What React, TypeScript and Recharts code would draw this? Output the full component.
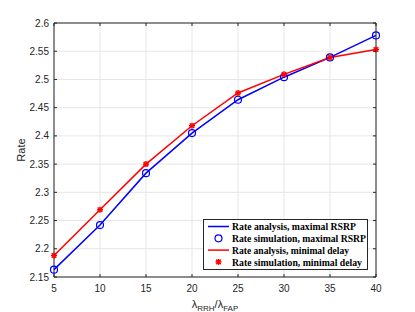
import { LineChart, Line, XAxis, YAxis, CartesianGrid, ReferenceArea } from 'recharts';

const ratios = [5, 10, 15, 20, 25, 30, 35, 40];
const rsrpAnalysis = [2.163, 2.242, 2.334, 2.405, 2.464, 2.504, 2.539, 2.578];
const rsrpSimulation = [2.163, 2.242, 2.334, 2.405, 2.464, 2.504, 2.539, 2.578];
const delayAnalysis = [2.188, 2.269, 2.350, 2.418, 2.476, 2.509, 2.539, 2.553];
const delaySimulation = [2.188, 2.269, 2.350, 2.418, 2.476, 2.509, 2.539, 2.553];
const xTicks = [5, 10, 15, 20, 25, 30, 35, 40];
const yTicks = [2.15, 2.2, 2.25, 2.3, 2.35, 2.4, 2.45, 2.5, 2.55, 2.6];

const W = 415;
const H = 312;
const M = { top: 23, right: 39, bottom: 5, left: 10 };
const Y_AXIS_W = 44;
const X_AXIS_H = 30;
const PLOT_TOP = M.top;
const PLOT_LEFT = M.left + Y_AXIS_W;
const PLOT_RIGHT = W - M.right;
const PLOT_BOTTOM = H - M.bottom - X_AXIS_H;
const AX = '#262626';
const FONT = '"Liberation Sans", Arial, sans-serif';

const data = ratios.map((r, i) => ({
  r,
  rsrpA: rsrpAnalysis[i],
  rsrpS: rsrpSimulation[i],
  delayA: delayAnalysis[i],
  delayS: delaySimulation[i],
}));

// eslint-disable-next-line @typescript-eslint/no-explicit-any
const XTick = (p: any) => {
  const x = p.x;
  return (
    <g>
      <line x1={x} x2={x} y1={PLOT_BOTTOM} y2={PLOT_BOTTOM - 3} stroke={AX} />
      <line x1={x} x2={x} y1={PLOT_TOP} y2={PLOT_TOP + 3} stroke={AX} />
      <text x={x} y={PLOT_BOTTOM + 15} textAnchor="middle" fontSize={10} fontFamily={FONT} fill={AX}>
        {p.payload.value}
      </text>
    </g>
  );
};

// eslint-disable-next-line @typescript-eslint/no-explicit-any
const YTick = (p: any) => {
  const y = p.y;
  return (
    <g>
      <line x1={PLOT_LEFT} x2={PLOT_LEFT + 3} y1={y} y2={y} stroke={AX} />
      <line x1={PLOT_RIGHT} x2={PLOT_RIGHT - 3} y1={y} y2={y} stroke={AX} />
      <text x={PLOT_LEFT - 5} y={y + 3.5} textAnchor="end" fontSize={10} fontFamily={FONT} fill={AX}>
        {String(p.payload.value)}
      </text>
    </g>
  );
};

// eslint-disable-next-line @typescript-eslint/no-explicit-any
const Circle = (p: any) => (
  <circle key={p.index} cx={p.cx} cy={p.cy} r={3.5} fill="none" stroke="#0000ff" strokeWidth={1.2} />
);

// eslint-disable-next-line @typescript-eslint/no-explicit-any
const Star = (p: any) => {
  const { cx, cy } = p;
  const s = 3;
  return (
    <g key={p.index} stroke="#ff0000" strokeWidth={1.5}>
      <line x1={cx - s} x2={cx + s} y1={cy} y2={cy} />
      <line x1={cx} x2={cx} y1={cy - s} y2={cy + s} />
      <line x1={cx - s * 0.75} x2={cx + s * 0.75} y1={cy - s * 0.75} y2={cy + s * 0.75} />
      <line x1={cx - s * 0.75} x2={cx + s * 0.75} y1={cy + s * 0.75} y2={cy - s * 0.75} />
    </g>
  );
};

const legendRows = [
  { label: 'Rate analysis, maximal RSRP', kind: 'line', color: '#0000ff', len: 124 },
  { label: 'Rate simulation, maximal RSRP', kind: 'circle', color: '#0000ff', len: 134 },
  { label: 'Rate analysis, minimal delay', kind: 'line', color: '#ff0000', len: 117 },
  { label: 'Rate simulation, minimal delay', kind: 'star', color: '#ff0000', len: 130 },
];

const LegendBox = () => (
  <svg width={165} height={51} style={{ position: 'absolute', left: 203, top: 219, overflow: 'visible' }}>
    <rect x={0.5} y={0.5} width={164} height={50} fill="#fff" stroke={AX} />
    {legendRows.map((row, i) => {
      const y = 7.5 + i * 11.8;
      return (
        <g key={i}>
          {row.kind === 'line' && <line x1={5} x2={26} y1={y} y2={y} stroke={row.color} strokeWidth={1.5} />}
          {row.kind === 'circle' && <circle cx={15.5} cy={y} r={3.5} fill="none" stroke={row.color} strokeWidth={1.2} />}
          {row.kind === 'star' && <Star cx={15.5} cy={y} index={i} />}
          <text x={29} y={y + 3.8} fontSize={10.5} fontWeight="bold" fontFamily='"Liberation Serif", "Times New Roman", serif' fill="#000" textLength={row.len} lengthAdjust="spacingAndGlyphs">
            {row.label}
          </text>
        </g>
      );
    })}
  </svg>
);

// eslint-disable-next-line @typescript-eslint/no-explicit-any
const XLabel = (p: any) => {
  const cx = (PLOT_LEFT + PLOT_RIGHT) / 2;
  return (
    <text x={cx} y={PLOT_BOTTOM + 31} textAnchor="middle" fontSize={11} fontFamily={FONT} fill={AX}>
      λ<tspan fontSize={8} dy={3}>RRH</tspan>
      <tspan dy={-3}>/λ</tspan>
      <tspan fontSize={8} dy={3}>FAP</tspan>
    </text>
  );
};

export default function App() {
  return (
    <div style={{ position: 'absolute', left: 0, top: 0, width: W, height: H, background: '#fff' }}>
      <LineChart width={W} height={H} data={data} margin={M}>
        <CartesianGrid stroke="#e6e6e6" strokeWidth={1} horizontalValues={yTicks} verticalValues={xTicks} />
        <XAxis
          dataKey="r"
          type="number"
          domain={[5, 40]}
          ticks={xTicks}
          height={X_AXIS_H}
          axisLine={false}
          tickLine={false}
          tick={<XTick />}
          label={<XLabel />}
          interval={0}
        />
        <YAxis
          type="number"
          domain={[2.15, 2.6]}
          ticks={yTicks}
          width={Y_AXIS_W}
          axisLine={false}
          tickLine={false}
          tick={<YTick />}
          interval={0}
          allowDataOverflow
          label={{ value: 'Rate', angle: -90, position: 'insideLeft', offset: 11, style: { fontSize: 11, fontFamily: FONT, fill: AX, textAnchor: 'middle' } }}
        />
        <ReferenceArea x1={5} x2={40} y1={2.15} y2={2.6} fill="none" stroke={AX} strokeWidth={1} ifOverflow="visible" />
        <Line dataKey="rsrpA" stroke="#0000ff" strokeWidth={1.5} dot={false} isAnimationActive={false} />
        <Line dataKey="rsrpS" stroke="none" dot={<Circle />} activeDot={false} isAnimationActive={false} />
        <Line dataKey="delayA" stroke="#ff0000" strokeWidth={1.5} dot={false} isAnimationActive={false} />
        <Line dataKey="delayS" stroke="none" dot={<Star />} activeDot={false} isAnimationActive={false} />
      </LineChart>
      <LegendBox />
    </div>
  );
}
